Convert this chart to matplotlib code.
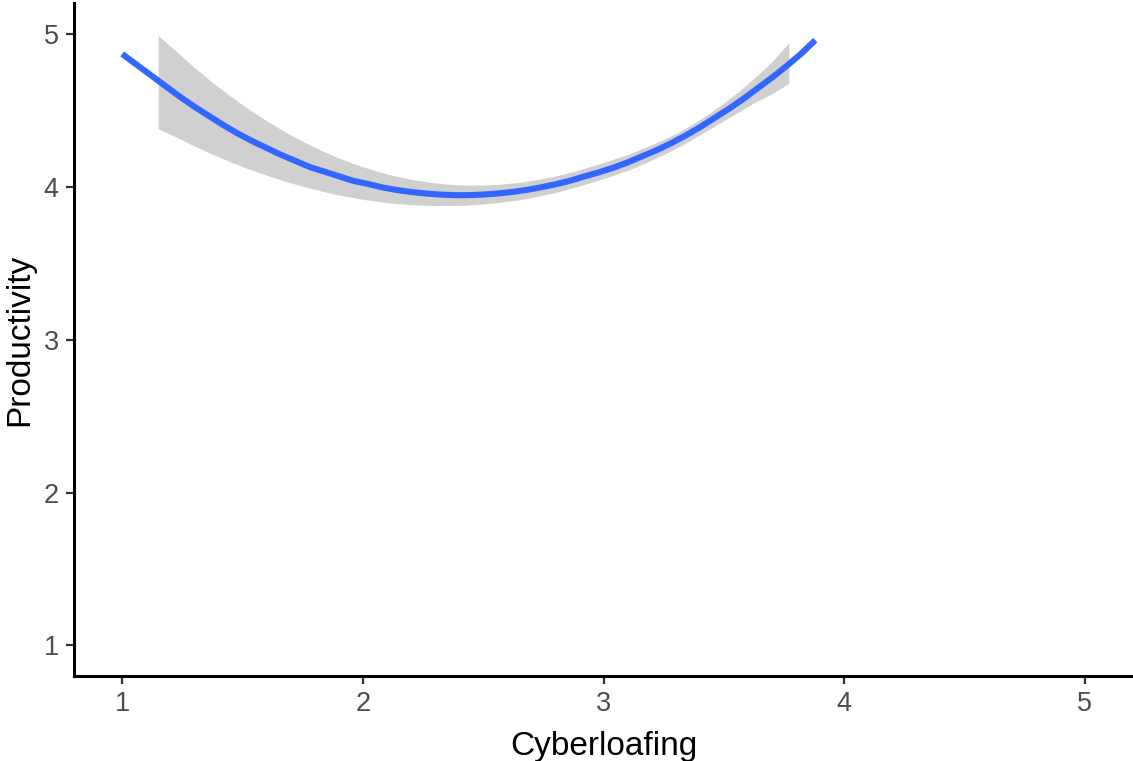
import matplotlib
matplotlib.use("Agg")
import matplotlib.pyplot as plt

plt.rcParams['font.family'] = ['Liberation Sans', 'DejaVu Sans']

# Fitted quadratic trend of productivity against cyberloafing
fit_x = [1.00, 1.06, 1.12, 1.18, 1.24, 1.30, 1.36, 1.42, 1.48, 1.54, 1.60, 1.66, 1.72,
         1.78, 1.84, 1.90, 1.96, 2.02, 2.08, 2.14, 2.20, 2.26, 2.32, 2.38, 2.44, 2.50,
         2.56, 2.62, 2.68, 2.74, 2.80, 2.86, 2.92, 2.98, 3.04, 3.10, 3.16, 3.22, 3.28,
         3.34, 3.40, 3.46, 3.52, 3.58, 3.64, 3.70, 3.76, 3.82, 3.88]
fit_y = [4.87, 4.80, 4.73, 4.66, 4.59, 4.525, 4.465, 4.405, 4.35, 4.30, 4.255, 4.21, 4.17,
         4.13, 4.10, 4.07, 4.04, 4.02, 3.997, 3.98, 3.967, 3.957, 3.95, 3.946, 3.946, 3.95,
         3.957, 3.967, 3.98, 3.997, 4.017, 4.04, 4.068, 4.095, 4.125, 4.16, 4.20, 4.24, 4.285,
         4.335, 4.39, 4.45, 4.51, 4.575, 4.645, 4.715, 4.79, 4.87, 4.96]

# Confidence band around the fit
band_x = [1.15, 1.225, 1.30, 1.375, 1.45, 1.525, 1.60, 1.675, 1.75, 1.825, 1.90, 1.975,
          2.05, 2.125, 2.20, 2.275, 2.35, 2.425, 2.50, 2.575, 2.65, 2.725, 2.80, 2.875,
          2.95, 3.025, 3.10, 3.175, 3.25, 3.325, 3.40, 3.475, 3.55, 3.625, 3.70, 3.77]
band_lo = [4.38, 4.326, 4.268, 4.214, 4.164, 4.118, 4.077, 4.038, 4.004, 3.974, 3.947, 3.925,
           3.907, 3.893, 3.884, 3.879, 3.878, 3.88, 3.888, 3.90, 3.916, 3.938, 3.963, 3.995,
           4.03, 4.068, 4.108, 4.158, 4.212, 4.271, 4.34, 4.41, 4.48, 4.55, 4.61, 4.677]
band_hi = [4.99, 4.886, 4.782, 4.684, 4.594, 4.51, 4.433, 4.362, 4.298, 4.24, 4.189, 4.145,
           4.107, 4.075, 4.05, 4.031, 4.018, 4.012, 4.012, 4.018, 4.03, 4.048, 4.071, 4.101,
           4.136, 4.172, 4.212, 4.26, 4.311, 4.369, 4.44, 4.52, 4.61, 4.71, 4.82, 4.943]

x_ticks = [1, 2, 3, 4, 5]
y_ticks = [1, 2, 3, 4, 5]
x_label = "Cyberloafing"
y_label = "Productivity"

fig = plt.figure(figsize=(11.33, 7.61), dpi=100)
ax = fig.add_axes([74 / 1133, 85 / 761, 1 - 74 / 1133, (676 - 3.5) / 761])

ax.fill_between(band_x, band_lo, band_hi, color="#d0d0d0", linewidth=0, zorder=1)
ax.plot(fit_x, fit_y, color="#3366FF", linewidth=4.4, solid_capstyle="butt",
        solid_joinstyle="round", zorder=2)

ax.set_xlim(0.8, 5.2)
ax.set_ylim(0.8, 5.2)
ax.set_xticks(x_ticks)
ax.set_yticks(y_ticks)
ax.set_xticklabels([str(v) for v in x_ticks])
ax.set_yticklabels([str(v) for v in y_ticks])

for side in ("top", "right"):
    ax.spines[side].set_visible(False)
for side in ("left", "bottom"):
    ax.spines[side].set_linewidth(2.2)
    ax.spines[side].set_color("black")

ax.tick_params(axis="both", length=5.5, width=1.6, color="#333333",
               labelcolor="#4d4d4d", labelsize=19.5, pad=5.5)

ax.set_xlabel(x_label, fontsize=24, color="black", labelpad=10)
ax.set_ylabel(y_label, fontsize=24, color="black", labelpad=6)

fig.savefig("out.png", dpi=100, facecolor="white")
